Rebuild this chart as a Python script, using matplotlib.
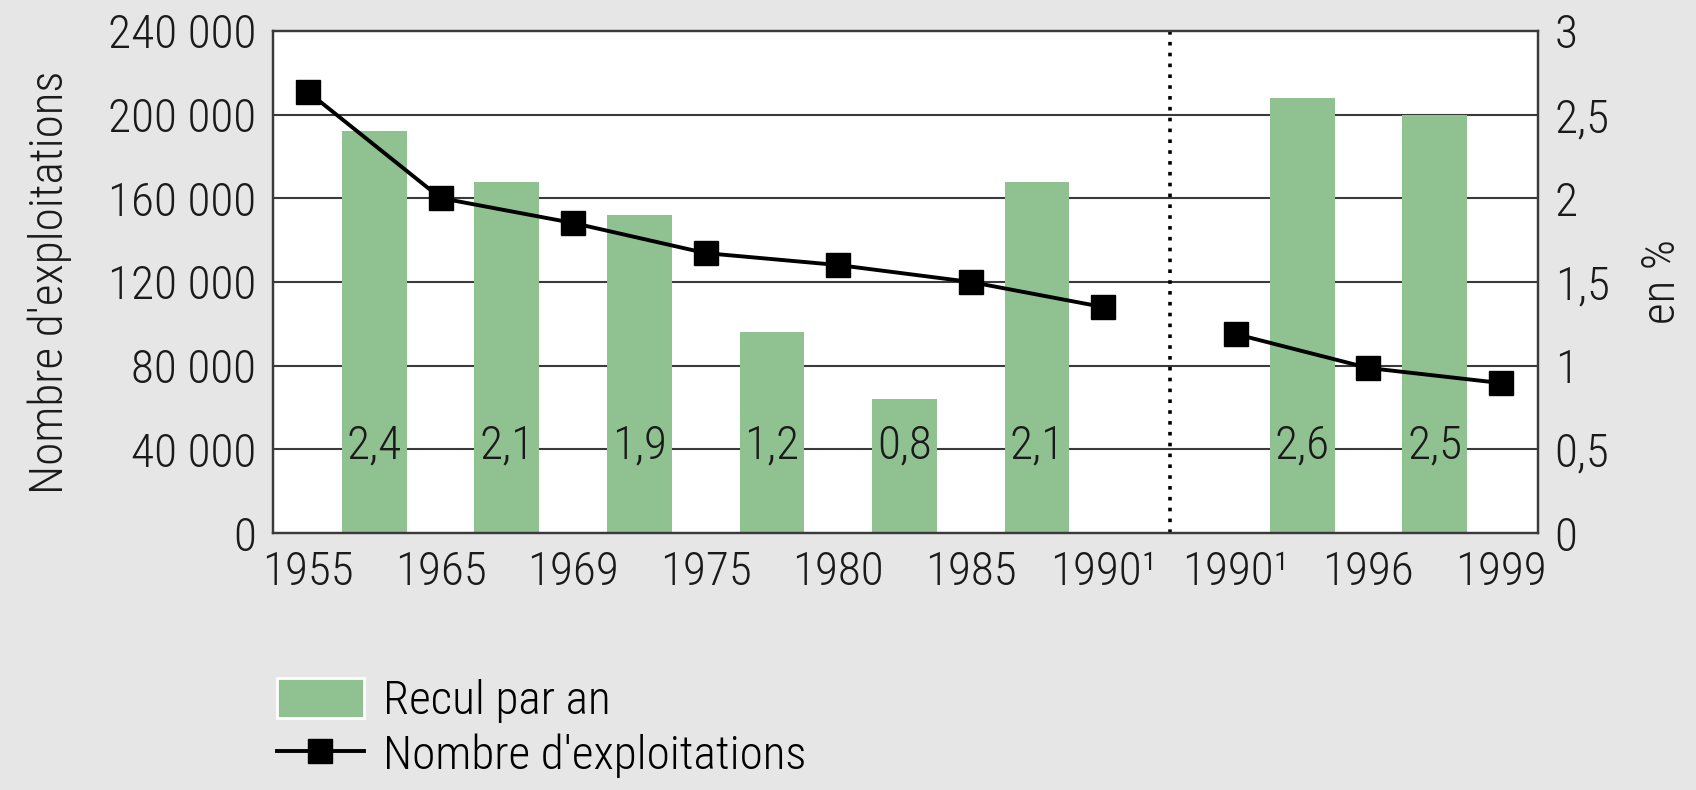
import matplotlib
matplotlib.use("Agg")
import matplotlib.pyplot as plt
from matplotlib import font_manager
from matplotlib.patches import Patch
from matplotlib.lines import Line2D

# Data
periods = ["1955", "1965", "1969", "1975", "1980", "1985", "1990\u00b9",
           "1990\u00b9", "1996", "1999"]
exploitations = [210800, 160100, 148200, 133800, 128100, 120000, 108000,
                 95100, 78900, 71700]
# yearly decline (%) between consecutive surveys; None where no bar is drawn
recul = [2.4, 2.1, 1.9, 1.2, 0.8, 2.1, None, 2.6, 2.5]
recul_labels = ["2,4", "2,1", "1,9", "1,2", "0,8", "2,1", None, "2,6", "2,5"]
left_ticks = [0, 40000, 80000, 120000, 160000, 200000, 240000]
left_ticklabels = ["0", "40 000", "80 000", "120 000", "160 000",
                   "200 000", "240 000"]
right_ticks = [0, 0.5, 1, 1.5, 2, 2.5, 3]
right_ticklabels = ["0", "0,5", "1", "1,5", "2", "2,5", "3"]

available = {f.name for f in font_manager.fontManager.ttflist}
family = [f for f in ["Liberation Sans Narrow", "Roboto Condensed",
                      "Open Sans Condensed", "Liberation Sans", "DejaVu Sans"]
          if f in available][:1] + ["DejaVu Sans"]
plt.rcParams["font.family"] = family
plt.rcParams["font.weight"] = "light"
plt.rcParams["axes.labelweight"] = "light"

BG = "#e6e6e6"
GREEN = "#90c190"
GRID = "#3a3a3a"
TXT = "#1a1a1a"
FS = 34

fig = plt.figure(figsize=(16.96, 7.90), dpi=100, facecolor=BG)
ax = fig.add_axes([0.161, 0.3253, 0.7458, 0.6355])
ax2 = ax.twinx()

# Bars on the percentage axis, centred between two survey years
bx = [i + 0.5 for i, v in enumerate(recul) if v is not None]
bh = [v for v in recul if v is not None]
ax2.bar(bx, bh, width=0.49, color=GREEN, zorder=2)
for x, lab in zip(bx, [l for l in recul_labels if l is not None]):
    ax2.text(x, 0.52, lab, ha="center", va="center", fontsize=FS,
             color=TXT, zorder=3)

# Horizontal grid drawn on the right axis so the bars cover it
for t in right_ticks[1:-1]:
    ax2.axhline(t, color=GRID, lw=1.5, zorder=1)

# Break between the two 1990 definitions
ax2.axvline(6.5, color="black", lw=2.6, ls=(0, (1, 2.0)), zorder=1)

# Line axes on top of the bar axes
ax.set_zorder(ax2.get_zorder() + 1)
ax.patch.set_visible(False)
ax2.patch.set_visible(True)
ax2.patch.set_facecolor("white")

# Number of farms, two segments either side of the break
xs = list(range(len(periods)))
ax.plot(xs[:7], exploitations[:7], color="black", lw=2.8, marker="s",
        markersize=17, zorder=4)
ax.plot(xs[7:], exploitations[7:], color="black", lw=2.8, marker="s",
        markersize=17, zorder=4)

ax.set_xlim(-0.265, 9.28)
ax.set_ylim(0, 240000)
ax2.set_ylim(0, 3)

ax.set_xticks(xs)
ax.set_xticklabels(periods, fontsize=FS, color=TXT)
ax.set_yticks(left_ticks)
ax.set_yticklabels(left_ticklabels, fontsize=FS, color=TXT)
ax2.set_yticks(right_ticks)
ax2.set_yticklabels(right_ticklabels, fontsize=FS, color=TXT)
ax.tick_params(axis="both", length=0, pad=12)
ax2.tick_params(axis="y", length=0, pad=12)

for a in (ax, ax2):
    for s in a.spines.values():
        s.set_color(GRID)
        s.set_linewidth(1.6)

ax.set_ylabel("Nombre d'exploitations", fontsize=FS, color=TXT, labelpad=26)
ax2.set_ylabel("en %", fontsize=FS, color=TXT, labelpad=22)

handles = [Patch(facecolor=GREEN, edgecolor="white", linewidth=2),
           Line2D([], [], color="black", lw=2.8, marker="s", markersize=17)]
fig.legend(handles, ["Recul par an", "Nombre d'exploitations"],
           loc="upper left", bbox_to_anchor=(0.152, 0.166),
           bbox_transform=fig.transFigure, frameon=False, fontsize=FS,
           handlelength=1.85, handleheight=0.95, handletextpad=0.4,
           labelspacing=0.2, borderaxespad=0)

fig.savefig("out.png", dpi=100, facecolor=BG)
